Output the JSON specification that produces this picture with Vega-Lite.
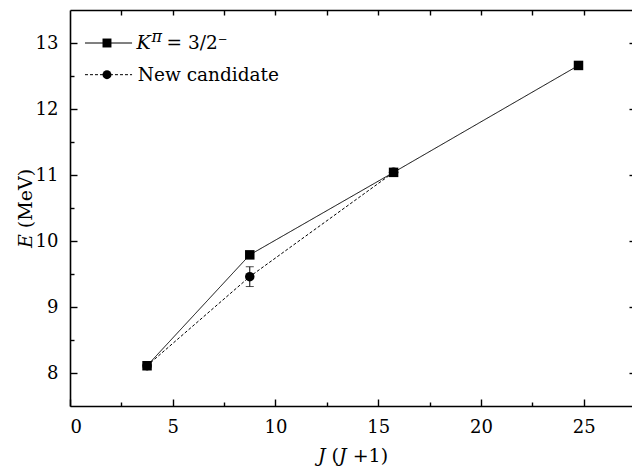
{
  "$schema": "https://vega.github.io/schema/vega-lite/v6.json",
  "width": 565,
  "height": 396,
  "autosize": {"type": "none"},
  "padding": {"left": 70, "top": 10, "right": 0, "bottom": 62},
  "background": "white",
  "config": {
    "font": "DejaVu Serif",
    "view": {"stroke": null},
    "text": {"font": "DejaVu Serif"},
    "axis": {
      "labelFont": "DejaVu Serif",
      "labelFontSize": 18,
      "labelColor": "black",
      "titleFont": "DejaVu Serif",
      "titleFontSize": 19,
      "titleFontWeight": "normal",
      "titleColor": "black",
      "domainColor": "black",
      "domainWidth": 1.6,
      "tickColor": "black",
      "tickWidth": 1.4,
      "grid": false
    }
  },
  "datasets": {
    "main": [
      {"series": "A", "x": 3.75, "y": 8.11},
      {"series": "A", "x": 8.75, "y": 9.79},
      {"series": "A", "x": 15.75, "y": 11.04},
      {"series": "A", "x": 24.75, "y": 12.66},
      {"series": "B", "x": 3.75, "y": 8.11},
      {"series": "B", "x": 8.75, "y": 9.46},
      {"series": "B", "x": 15.75, "y": 11.04}
    ],
    "err": [{"x": 8.75, "lo": 9.31, "hi": 9.61}],
    "legLine": [
      {"series": "A", "x": 0.73, "y": 13.0},
      {"series": "A", "x": 3.02, "y": 13.0},
      {"series": "B", "x": 0.73, "y": 12.52},
      {"series": "B", "x": 3.02, "y": 12.52}
    ],
    "legPt": [
      {"series": "A", "x": 1.8, "y": 13.0},
      {"series": "B", "x": 1.8, "y": 12.52}
    ],
    "legA": [{"x": 3.24, "y": 13.0}],
    "legB": [{"x": 3.3, "y": 12.52}]
  },
  "resolve": {"axis": {"x": "independent", "y": "independent"}},
  "layer": [
    {
      "data": {"name": "main"},
      "mark": {"type": "point", "opacity": 0},
      "encoding": {
        "x": {"field": "x", "type": "quantitative",
          "scale": {"domain": [0, 27.5], "nice": false, "zero": false},
          "axis": {"orient": "bottom", "values": [0, 5, 10, 15, 20, 25], "tickSize": -7, "labelPadding": 19, "title": "𝐽 (𝐽 +1)", "titlePadding": 10}},
        "y": {"field": "y", "type": "quantitative",
          "scale": {"domain": [7.5, 13.5], "nice": false, "zero": false},
          "axis": {"orient": "left", "values": [8, 9, 10, 11, 12, 13], "tickSize": -7, "labelPadding": 19, "title": "𝐸 (MeV)", "titlePadding": 0}}
      }
    },
    {
      "data": {"name": "main"},
      "mark": {"type": "point", "opacity": 0},
      "encoding": {
        "x": {"field": "x", "type": "quantitative",
          "axis": {"orient": "bottom", "values": [2.5, 7.5, 12.5, 17.5, 22.5], "tickSize": -4, "labels": false, "domain": false, "title": null}},
        "y": {"field": "y", "type": "quantitative",
          "axis": {"orient": "left", "values": [8.5, 9.5, 10.5, 11.5, 12.5], "tickSize": -4, "labels": false, "domain": false, "title": null}}
      }
    },
    {
      "data": {"name": "main"},
      "mark": {"type": "point", "opacity": 0},
      "encoding": {
        "x": {"field": "x", "type": "quantitative",
          "axis": {"orient": "top", "values": [2.5, 5, 7.5, 10, 12.5, 15, 17.5, 20, 22.5, 25], "tickSize": -5, "labels": false, "title": null}},
        "y": {"field": "y", "type": "quantitative",
          "axis": {"orient": "right", "values": [8, 9, 10, 11, 12, 13], "tickSize": -6, "labels": false, "title": null}}
      }
    },
    {
      "data": {"name": "main"},
      "mark": {"type": "point", "opacity": 0},
      "encoding": {
        "x": {"field": "x", "type": "quantitative", "axis": null},
        "y": {"field": "y", "type": "quantitative",
          "axis": {"orient": "right", "values": [8.5, 9.5, 10.5, 11.5, 12.5], "tickSize": -3, "labels": false, "domain": false, "title": null}}
      }
    },
    {
      "data": {"name": "main"},
      "mark": {"type": "line", "color": "black", "strokeWidth": 1},
      "encoding": {
        "x": {"field": "x", "type": "quantitative", "axis": null},
        "y": {"field": "y", "type": "quantitative", "axis": null},
        "detail": {"field": "series"},
        "strokeDash": {"field": "series", "type": "nominal", "scale": {"domain": ["A", "B"], "range": [[1, 0], [3, 2]]}, "legend": null}
      }
    },
    {
      "data": {"name": "err"},
      "mark": {"type": "errorbar", "ticks": {"size": 8, "color": "black", "thickness": 1}, "rule": {"color": "black", "strokeWidth": 1}},
      "encoding": {
        "x": {"field": "x", "type": "quantitative", "axis": null},
        "y": {"field": "lo", "type": "quantitative", "axis": null},
        "y2": {"field": "hi"}
      }
    },
    {
      "data": {"name": "main"},
      "mark": {"type": "point", "filled": true, "color": "black", "opacity": 1, "size": 90},
      "encoding": {
        "x": {"field": "x", "type": "quantitative", "axis": null},
        "y": {"field": "y", "type": "quantitative", "axis": null},
        "shape": {"field": "series", "type": "nominal", "scale": {"domain": ["A", "B"], "range": ["square", "circle"]}, "legend": null}
      }
    },
    {
      "data": {"name": "legLine"},
      "mark": {"type": "line", "color": "black", "strokeWidth": 1},
      "encoding": {
        "x": {"field": "x", "type": "quantitative", "axis": null},
        "y": {"field": "y", "type": "quantitative", "axis": null},
        "detail": {"field": "series"},
        "strokeDash": {"field": "series", "type": "nominal", "scale": {"domain": ["A", "B"], "range": [[1, 0], [3, 2]]}, "legend": null}
      }
    },
    {
      "data": {"name": "legPt"},
      "mark": {"type": "point", "filled": true, "color": "black", "opacity": 1, "size": 80},
      "encoding": {
        "x": {"field": "x", "type": "quantitative", "axis": null},
        "y": {"field": "y", "type": "quantitative", "axis": null},
        "shape": {"field": "series", "type": "nominal", "scale": {"domain": ["A", "B"], "range": ["square", "circle"]}, "legend": null}
      }
    },
    {
      "data": {"name": "legA"},
      "mark": {"type": "text", "text": "K", "fontStyle": "italic", "fontSize": 19, "align": "left", "baseline": "middle", "color": "black"},
      "encoding": {
        "x": {"field": "x", "type": "quantitative", "axis": null},
        "y": {"field": "y", "type": "quantitative", "axis": null}
      }
    },
    {
      "data": {"name": "legA"},
      "mark": {"type": "text", "text": "π", "fontStyle": "italic", "fontSize": 16, "align": "left", "baseline": "middle", "dx": 15, "dy": -6, "color": "black"},
      "encoding": {
        "x": {"field": "x", "type": "quantitative", "axis": null},
        "y": {"field": "y", "type": "quantitative", "axis": null}
      }
    },
    {
      "data": {"name": "legA"},
      "mark": {"type": "text", "text": "= 3/2⁻", "fontSize": 18.5, "align": "left", "baseline": "middle", "dx": 30, "color": "black"},
      "encoding": {
        "x": {"field": "x", "type": "quantitative", "axis": null},
        "y": {"field": "y", "type": "quantitative", "axis": null}
      }
    },
    {
      "data": {"name": "legB"},
      "mark": {"type": "text", "text": "New candidate", "fontSize": 18.5, "align": "left", "baseline": "middle", "color": "black"},
      "encoding": {
        "x": {"field": "x", "type": "quantitative", "axis": null},
        "y": {"field": "y", "type": "quantitative", "axis": null}
      }
    }
  ]
}
